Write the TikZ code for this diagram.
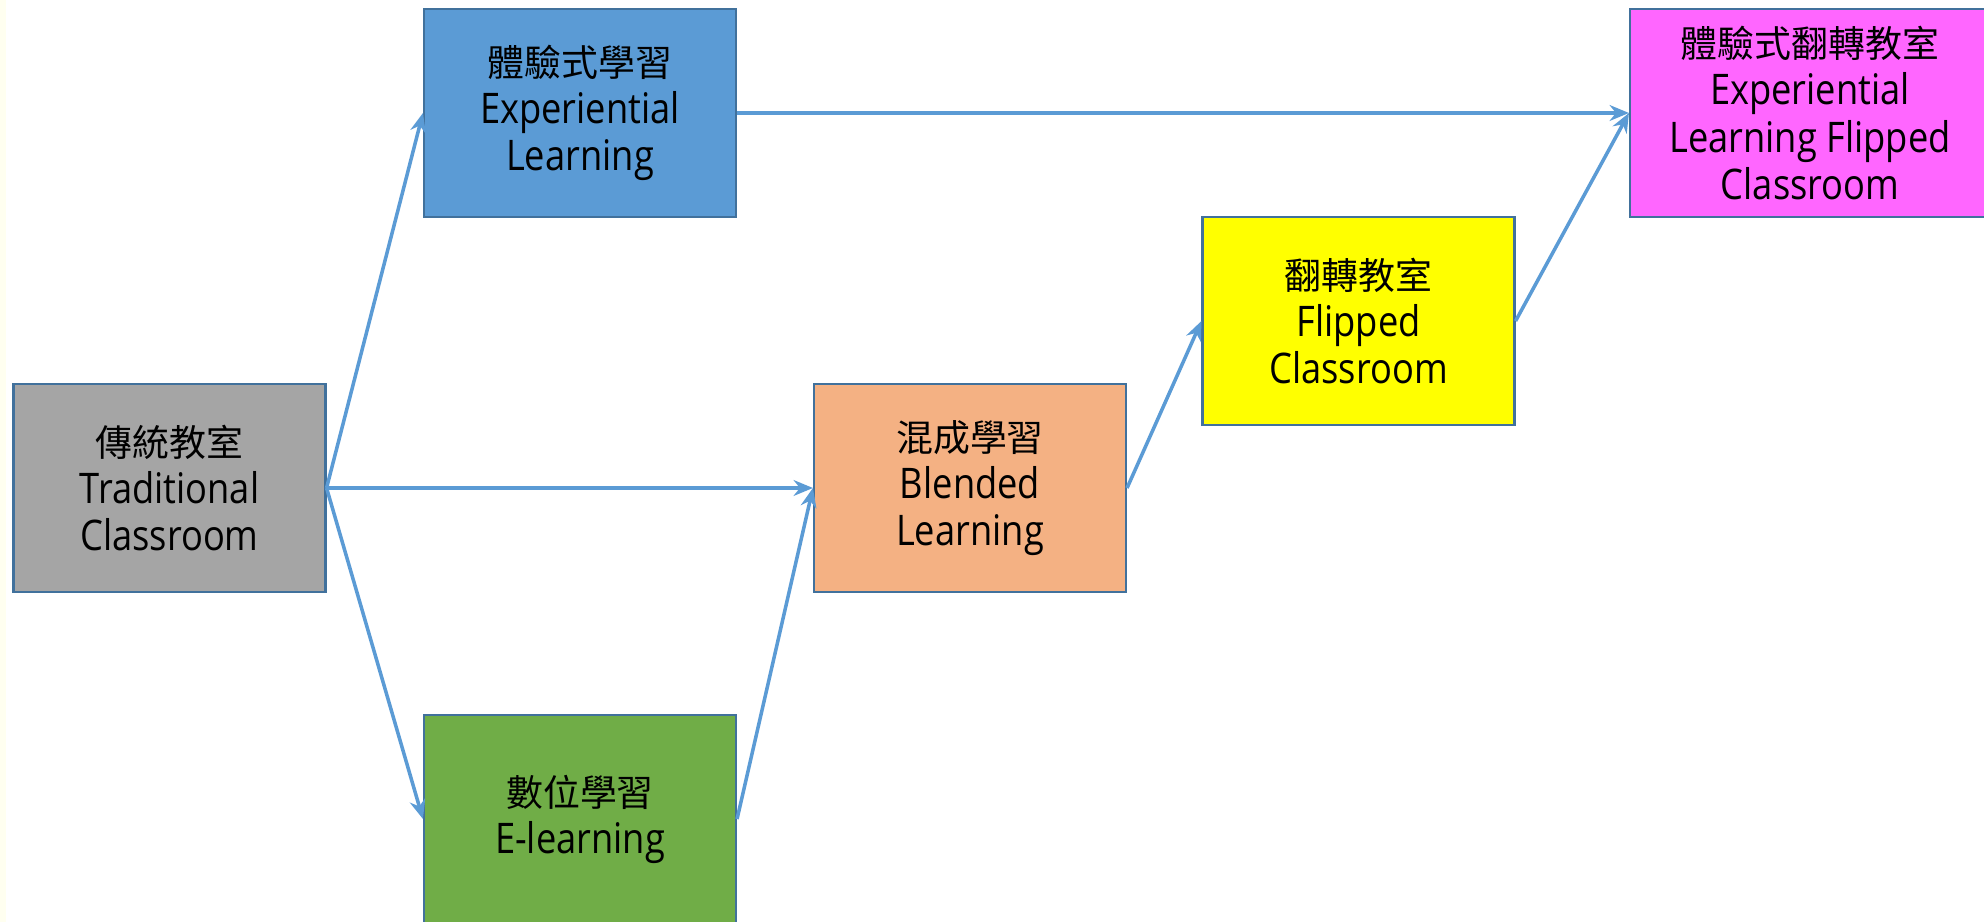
\documentclass[tikz,border=0pt]{standalone}
\usepackage{fontspec}
\usepackage{tikz}
\usetikzlibrary{arrows.meta}
\setmainfont[FakeStretch=0.86]{Open Sans}
\newfontfamily\cjk{Noto Sans CJK TC}
\newcommand{\zh}[1]{{\cjk\fontsize{10.5}{13.4}\selectfont #1}}
\definecolor{edgeblue}{HTML}{41719C}
\definecolor{linkblue}{HTML}{5B9BD5}
\definecolor{tradgray}{HTML}{A5A5A5}
\definecolor{expblue}{HTML}{5B9BD5}
\definecolor{elgreen}{HTML}{70AD47}
\definecolor{blendorange}{HTML}{F4B183}
\definecolor{flipyellow}{HTML}{FFFF00}
\definecolor{elfpink}{HTML}{FF66FF}
\definecolor{sidecream}{HTML}{FFFFF0}
\tikzset{
    stagebox/.style={draw=edgeblue, line width=0.6pt, minimum width=3.12cm, minimum height=2.08cm,
        align=center, inner sep=0pt, font=\fontsize{12}{13.4}\selectfont},
    link/.style={draw=linkblue, line width=1pt, -{Stealth[length=5.5pt, width=4.5pt, inset=1.8pt]}}
}
\begin{document}
\begin{tikzpicture}
        \clip (0, 0) rectangle (19.84, -9.22);
        \fill[white] (0, 0) rectangle (19.84, -9.22);
        \fill[sidecream] (0, 0) rectangle (0.06, -9.22);
        \node[stagebox, fill=tradgray] (trad) at (1.695, -4.88) {\zh{傳統教室}\\Traditional\\Classroom};
        \node[stagebox, fill=expblue] (exp) at (5.80, -1.13) {\zh{體驗式學習}\\Experiential\\Learning};
        \node[stagebox, fill=elgreen] (elearn) at (5.80, -8.19) {\zh{數位學習}\\E-learning};
        \node[stagebox, fill=blendorange] (blend) at (9.70, -4.88) {\zh{混成學習}\\Blended\\Learning};
        \node[stagebox, fill=flipyellow] (flip) at (13.585, -3.21) {\zh{翻轉教室}\\Flipped\\Classroom};
        \node[stagebox, fill=elfpink, minimum width=3.60cm] (elf) at (18.10, -1.13) {\zh{體驗式翻轉教室}\\Experiential\\Learning Flipped\\Classroom};
        \draw[link] (trad.east) -- (exp.west);
        \draw[link] (trad.east) -- (blend.west);
        \draw[link] (trad.east) -- (elearn.west);
        \draw[link] (elearn.east) -- (blend.west);
        \draw[link] (exp.east) -- (elf.west);
        \draw[link] (blend.east) -- (flip.west);
        \draw[link] (flip.east) -- (elf.west);
    \end{tikzpicture}
\end{document}
